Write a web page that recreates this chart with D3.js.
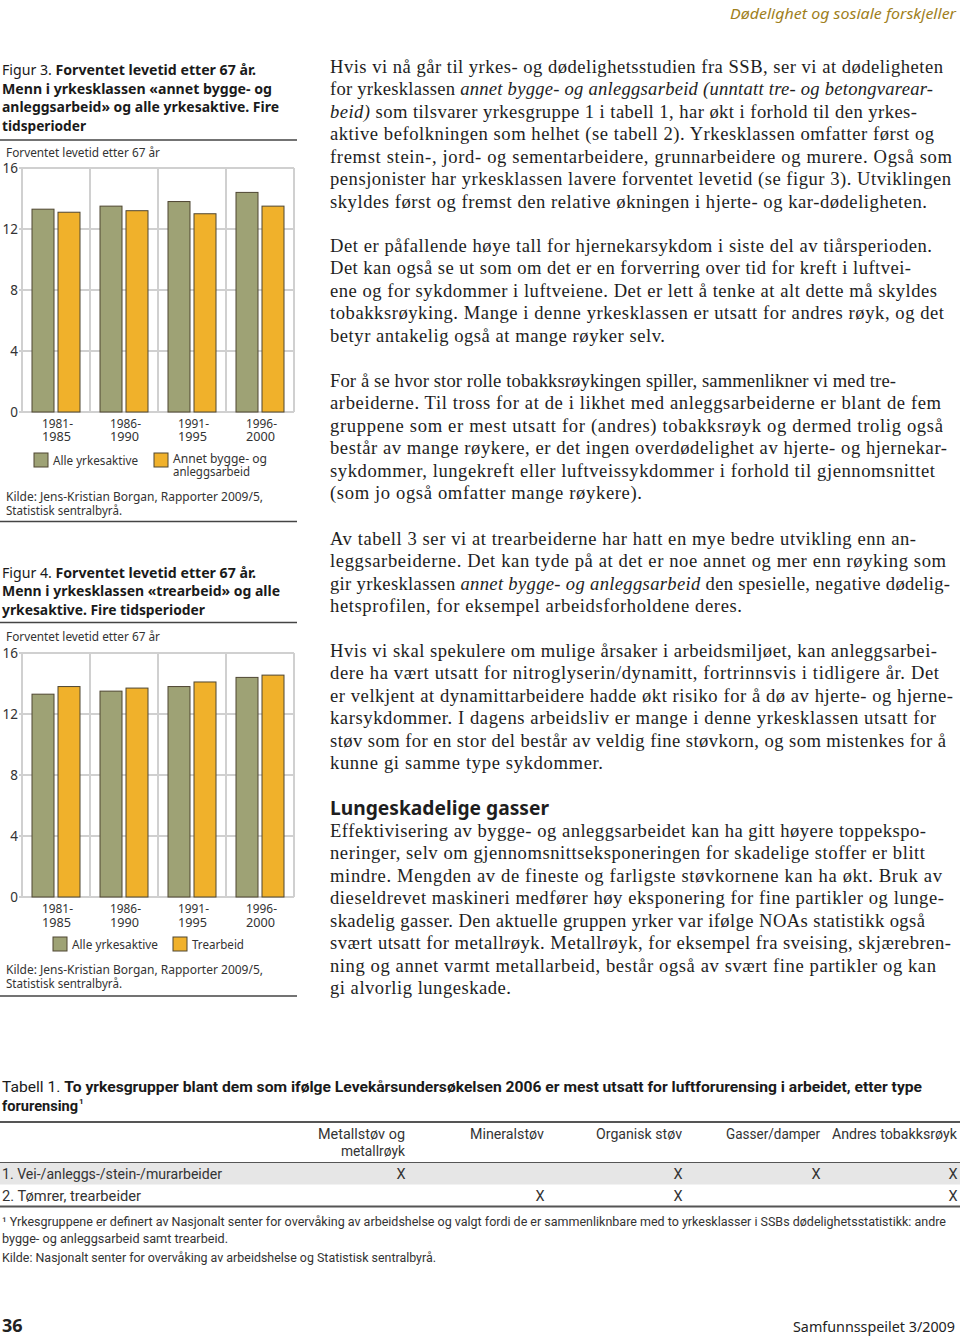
<!DOCTYPE html>
<html><head><meta charset="utf-8">
<script src="https://cdn.jsdelivr.net/npm/d3@7"></script>
<style>
html,body{margin:0;padding:0;background:#fff;}
svg{display:block;}
</style></head>
<body>
<script>
// ---------------- DATA ----------------
const periods = ["1981-1985", "1986-1990", "1991-1995", "1996-2000"];
const periodLines = [["1981-", "1985"], ["1986-", "1990"], ["1991-", "1995"], ["1996-", "2000"]];
const yTicks = [0, 4, 8, 12, 16];
const fig3Alle = [13.3, 13.5, 13.8, 14.4];
const fig3Annet = [13.1, 13.2, 13.0, 13.5];
const fig4Alle = [13.3, 13.5, 13.8, 14.4];
const fig4Tre = [13.8, 13.7, 14.1, 14.55];
const fig3Series = ["Alle yrkesaktive", "Annet bygge- og anleggsarbeid"];
const fig4Series = ["Alle yrkesaktive", "Trearbeid"];

const tableCols = [["Metallstøv og", "metallrøyk"], ["Mineralstøv"], ["Organisk støv"], ["Gasser/damper"], ["Andres tobakksrøyk"]];
const tableRows = ["1. Vei-/anleggs-/stein-/murarbeider", "2. Tømrer, trearbeider"];
const tableMarks = [[1, 0, 1, 1, 1], [0, 1, 1, 0, 1]];

// body text lines ("_" toggles italic)
const bodyParas = [
  [" Hvis vi nå går til yrkes- og dødelighetsstudien fra SSB, ser vi at dødeligheten",
   "for yrkesklassen _annet bygge- og anleggsarbeid (unntatt tre- og betongvarear-_",
   "_beid)_ som tilsvarer yrkesgruppe 1 i tabell 1, har økt i forhold til den yrkes-",
   "aktive befolkningen som helhet (se tabell 2). Yrkesklassen omfatter først og",
   "fremst stein-, jord- og sementarbeidere, grunnarbeidere og murere. Også som",
   "pensjonister har yrkesklassen lavere forventet levetid (se figur 3). Utviklingen",
   "skyldes først og fremst den relative økningen i hjerte- og kar-dødeligheten."],
  ["Det er påfallende høye tall for hjernekarsykdom i siste del av tiårsperioden.",
   "Det kan også se ut som om det er en forverring over tid for kreft i luftvei-",
   "ene og for sykdommer i luftveiene. Det er lett å tenke at alt dette må skyldes",
   "tobakksrøyking. Mange i denne yrkesklassen er utsatt for andres røyk, og det",
   "betyr antakelig også at mange røyker selv."],
  ["For å se hvor stor rolle tobakksrøykingen spiller, sammenlikner vi med tre-",
   "arbeiderne. Til tross for at de i likhet med anleggsarbeiderne er blant de fem",
   "gruppene som er mest utsatt for (andres) tobakksrøyk og dermed trolig også",
   "består av mange røykere, er det ingen overdødelighet av hjerte- og hjernekar-",
   "sykdommer, lungekreft eller luftveissykdommer i forhold til gjennomsnittet",
   "(som jo også omfatter mange røykere)."],
  ["Av tabell 3 ser vi at trearbeiderne har hatt en mye bedre utvikling enn an-",
   "leggsarbeiderne. Det kan tyde på at det er noe annet og mer enn røyking som",
   "gir yrkesklassen _annet bygge- og anleggsarbeid_ den spesielle, negative dødelig-",
   "hetsprofilen, for eksempel arbeidsforholdene deres."],
  ["Hvis vi skal spekulere om mulige årsaker i arbeidsmiljøet, kan anleggsarbei-",
   "dere ha vært utsatt for nitroglyserin/dynamitt, fortrinnsvis i tidligere år. Det",
   "er velkjent at dynamittarbeidere hadde økt risiko for å dø av hjerte- og hjerne-",
   "karsykdommer. I dagens arbeidsliv er mange i denne yrkesklassen utsatt for",
   "støv som for en stor del består av veldig fine støvkorn, og som mistenkes for å",
   "kunne gi samme type sykdommer."],
  ["Effektivisering av bygge- og anleggsarbeidet kan ha gitt høyere toppekspo-",
   "neringer, selv om gjennomsnittseksponeringen for skadelige stoffer er blitt",
   "mindre. Mengden av de fineste og farligste støvkornene kan ha økt. Bruk av",
   "dieseldrevet maskineri medfører høy eksponering for fine partikler og lunge-",
   "skadelig gasser. Den aktuelle gruppen yrker var ifølge NOAs statistikk også",
   "svært utsatt for metallrøyk. Metallrøyk, for eksempel fra sveising, skjærebren-",
   "ning og annet varmt metallarbeid, består også av svært fine partikler og kan",
   "gi alvorlig lungeskade."]
];

// ---------------- LAYOUT ----------------
const W = 960, H = 1338;
const GREEN = "#9ea275", ORANGE = "#f0b12b", BAR_STROKE = "#4f4632", GRID = "#d0d0d0";
const SANS = "'Noto Sans', 'Open Sans', sans-serif";
const SERIF = "'Liberation Serif', 'DejaVu Serif', serif";
const NARROW = "'Liberation Sans Narrow', 'Roboto', sans-serif";

const svg = d3.select("body").append("svg").attr("width", W).attr("height", H)
  .attr("viewBox", `0 0 ${W} ${H}`);

function txt(g, x, y, s, o = {}) {
  const t = g.append("text").attr("x", x).attr("y", y)
    .attr("font-family", o.family || SANS).attr("font-size", o.size || 13)
    .attr("fill", o.fill || "#2a2a2a").attr("text-anchor", o.anchor || "start");
  if (o.weight) t.attr("font-weight", o.weight);
  if (o.italic) t.attr("font-style", "italic");
  if (o.parts) {
    o.parts.forEach(p => {
      const ts = t.append("tspan").text(p.t);
      if (p.b) ts.attr("font-weight", "bold");
      if (p.i) ts.attr("font-style", "italic");
    });
  } else t.text(s);
  if (o.len) t.attr("textLength", o.len).attr("lengthAdjust", o.adjust || "spacingAndGlyphs");
  return t;
}

// header / footer
txt(svg, 956, 19, "Dødelighet og sosiale forskjeller", {anchor: "end", italic: true, size: 15, fill: "#a0801c", len: 226});
txt(svg, 2, 1332, "36", {weight: "bold", size: 18, fill: "#222"});
txt(svg, 955, 1332, "Samfunnsspeilet 3/2009", {anchor: "end", size: 14.5, fill: "#222", len: 162});

// ---------------- CHART ----------------
function drawChart(cfg) {
  const g = svg.append("g");
  cfg.titleLines.forEach((ln, i) => {
    txt(g, 2, cfg.titleY[i], null, {size: 14.5, fill: "#1a1a1a", parts: ln.parts, len: ln.len});
  });
  g.append("line").attr("x1", 0).attr("x2", 297).attr("y1", cfg.ruleTop).attr("y2", cfg.ruleTop)
    .attr("stroke", "#444").attr("stroke-width", 1.5);
  txt(g, 6, cfg.axisTitleY, "Forventet levetid etter 67 år", {size: 13, fill: "#333", len: 154});

  const x = d3.scaleBand().domain(periods).range([22, 294]).padding(0);
  const xs = d3.scaleBand().domain(cfg.series).range([10, 58]).paddingInner(4 / 26).paddingOuter(0);
  const y = d3.scaleLinear().domain([0, 16]).range([cfg.y0, cfg.y16]);

  g.selectAll(".hg").data(yTicks).join("line")
    .attr("x1", 19).attr("x2", 294).attr("y1", d => y(d)).attr("y2", d => y(d))
    .attr("stroke", GRID).attr("stroke-width", 2);
  const vb = periods.map(p => x(p)).concat([x(periods[periods.length - 1]) + x.bandwidth()]);
  g.selectAll(".vg").data(vb).join("line")
    .attr("x1", d => d).attr("x2", d => d).attr("y1", y(16)).attr("y2", y(0))
    .attr("stroke", GRID).attr("stroke-width", 2);

  g.selectAll(".yl").data(yTicks).join("text")
    .attr("x", 18).attr("y", d => y(d) + 5).attr("text-anchor", "end")
    .attr("font-family", SANS).attr("font-size", 13.5).attr("fill", "#333").text(d => d);

  const vals = [cfg.a, cfg.b];
  const colors = [GREEN, ORANGE];
  cfg.series.forEach((s, si) => {
    g.selectAll(".bar" + si).data(periods).join("rect")
      .attr("x", p => x(p) + xs(s)).attr("width", xs.bandwidth())
      .attr("y", (p, i) => y(vals[si][i])).attr("height", (p, i) => y(0) - y(vals[si][i]))
      .attr("fill", colors[si]).attr("stroke", BAR_STROKE).attr("stroke-width", 1);
  });

  periods.forEach((p, i) => {
    const cx = x(p) + x.bandwidth() / 2 - 14;
    txt(g, cx, cfg.xLabY, periodLines[i][0], {size: 12.5, fill: "#333", len: 31});
    txt(g, cx, cfg.xLabY + 13.7, periodLines[i][1], {size: 12.5, fill: "#333", len: 29});
  });

  cfg.legend.forEach((L, i) => {
    g.append("rect").attr("x", L.x).attr("y", L.y).attr("width", 14).attr("height", 14)
      .attr("fill", colors[i]).attr("stroke", BAR_STROKE).attr("stroke-width", 1);
    L.lines.forEach((s, j) => txt(g, L.x + 19, L.ty + j * 12.7, s, {size: 12, fill: "#333", len: L.lens[j]}));
  });

  txt(g, 6, cfg.kildeY, "Kilde: Jens-Kristian Borgan, Rapporter 2009/5,", {size: 12.5, fill: "#333", len: 257});
  txt(g, 6, cfg.kildeY + 14, "Statistisk sentralbyrå.", {size: 12.5, fill: "#333", len: 116});
  g.append("line").attr("x1", 0).attr("x2", 297).attr("y1", cfg.ruleBot).attr("y2", cfg.ruleBot)
    .attr("stroke", "#444").attr("stroke-width", 1.5);
}

drawChart({
  titleLines: [
    {parts: [{t: "Figur 3. "}, {t: "Forventet levetid etter 67 år.", b: 1}], len: 254},
    {parts: [{t: "Menn i yrkesklassen «annet bygge- og", b: 1}], len: 270},
    {parts: [{t: "anleggsarbeid» og alle yrkesaktive. Fire", b: 1}], len: 277},
    {parts: [{t: "tidsperioder", b: 1}], len: 84}
  ],
  titleY: [75, 93.5, 112, 131], ruleTop: 140, axisTitleY: 157,
  y0: 412, y16: 168, xLabY: 427.5,
  series: fig3Series, a: fig3Alle, b: fig3Annet,
  legend: [{x: 34, y: 453, ty: 465, lines: ["Alle yrkesaktive"], lens: [85]},
           {x: 154, y: 453, ty: 463, lines: ["Annet bygge- og", "anleggsarbeid"], lens: [94, 77]}],
  kildeY: 500.5, ruleBot: 521.5
});

drawChart({
  titleLines: [
    {parts: [{t: "Figur 4. "}, {t: "Forventet levetid etter 67 år.", b: 1}], len: 254},
    {parts: [{t: "Menn i yrkesklassen «trearbeid» og alle", b: 1}], len: 278},
    {parts: [{t: "yrkesaktive. Fire tidsperioder", b: 1}], len: 203}
  ],
  titleY: [578, 596, 614.5], ruleTop: 622.5, axisTitleY: 640.5,
  y0: 897, y16: 653, xLabY: 913,
  series: fig4Series, a: fig4Alle, b: fig4Tre,
  legend: [{x: 53, y: 937, ty: 948.5, lines: ["Alle yrkesaktive"], lens: [86]},
           {x: 173, y: 937, ty: 948.5, lines: ["Trearbeid"], lens: [52]}],
  kildeY: 973.5, ruleBot: 996
});

// ---------------- BODY TEXT ----------------
const paraTops = [73, 252, 387, 545, 657, 837];
const paraRight = [
  [943, 933, 917, 934, 952, 951, 927],
  [932, 911, 937, 944, 665],
  [896, 941, 943, 947, 935, 642],
  [916, 946, 950, 742],
  [937, 939, 953, 936, 946, 603],
  [926, 925, 942, 944, 925, 951, 936, 511]
];
const LH = 22.45;
bodyParas.forEach((para, pi) => {
  para.forEach((line, li) => {
    const segs = line.split("_");
    const parts = segs.map((s, k) => ({t: s, i: k % 2 === 1})).filter(p => p.t.length);
    txt(svg, 330, paraTops[pi] + li * LH, null,
      {family: SERIF, size: 18.6, fill: "#1e1e1e", parts, len: paraRight[pi][li] - 330, adjust: "spacing"});
  });
});
txt(svg, 330, 814.5, "Lungeskadelige gasser", {weight: "bold", size: 19, fill: "#1e1e1e", len: 219});

// ---------------- TABLE ----------------
const tg = svg.append("g");
txt(tg, 2, 1092, null, {family: NARROW, size: 14.5, fill: "#1a1a1a",
  parts: [{t: "Tabell 1. "}, {t: "To yrkesgrupper blant dem som ifølge Levekårsundersøkelsen 2006 er mest utsatt for luftforurensing i arbeidet, etter type", b: 1}], len: 920});
txt(tg, 2, 1110.5, null, {family: NARROW, size: 14.5, fill: "#1a1a1a",
  parts: [{t: "forurensing", b: 1}], len: 76});
txt(tg, 79, 1104, "1", {family: NARROW, size: 8, fill: "#1a1a1a", weight: "bold"});

tg.append("line").attr("x1", 0).attr("x2", 960).attr("y1", 1122).attr("y2", 1122).attr("stroke", "#555").attr("stroke-width", 2);
tg.append("rect").attr("x", 0).attr("y", 1163).attr("width", 960).attr("height", 21.5).attr("fill", "#e6e6e6");
tg.append("line").attr("x1", 0).attr("x2", 960).attr("y1", 1162.5).attr("y2", 1162.5).attr("stroke", "#555").attr("stroke-width", 1.2);
tg.append("line").attr("x1", 0).attr("x2", 960).attr("y1", 1206.5).attr("y2", 1206.5).attr("stroke", "#555").attr("stroke-width", 2);

const colRight = d3.scaleOrdinal().domain(d3.range(tableCols.length)).range([405, 544, 682, 820, 957]);
const colWidths = [[87, 64], [74], [86], [94], [125]];
tableCols.forEach((c, ci) => {
  c.forEach((s, j) => txt(tg, colRight(ci), 1139 + j * 16.5, s,
    {family: NARROW, size: 14.5, fill: "#333", anchor: "end", len: colWidths[ci][j]}));
});
const rowY = d3.scaleOrdinal().domain(d3.range(tableRows.length)).range([1178.5, 1200.5]);
const rowW = [220, 139];
tableRows.forEach((r, ri) => {
  txt(tg, 2, rowY(ri), r, {family: NARROW, size: 14.5, fill: "#333", len: rowW[ri]});
  tableMarks[ri].forEach((m, ci) => {
    if (m) txt(tg, colRight(ci) - 4, rowY(ri), "X", {family: NARROW, size: 14.5, fill: "#333", anchor: "middle"});
  });
});

txt(tg, 2, 1225.5, "¹ Yrkesgruppene er definert av Nasjonalt senter for overvåking av arbeidshelse og valgt fordi de er sammenliknbare med to yrkesklasser i SSBs dødelighetsstatistikk: andre",
  {family: NARROW, size: 12.5, fill: "#333", len: 944});
txt(tg, 2, 1243, "bygge- og anleggsarbeid samt trearbeid.", {family: NARROW, size: 12.5, fill: "#333", len: 226});
txt(tg, 2, 1262, "Kilde: Nasjonalt senter for overvåking av arbeidshelse og Statistisk sentralbyrå.", {family: NARROW, size: 12.5, fill: "#333", len: 434});
</script>
</body></html>
